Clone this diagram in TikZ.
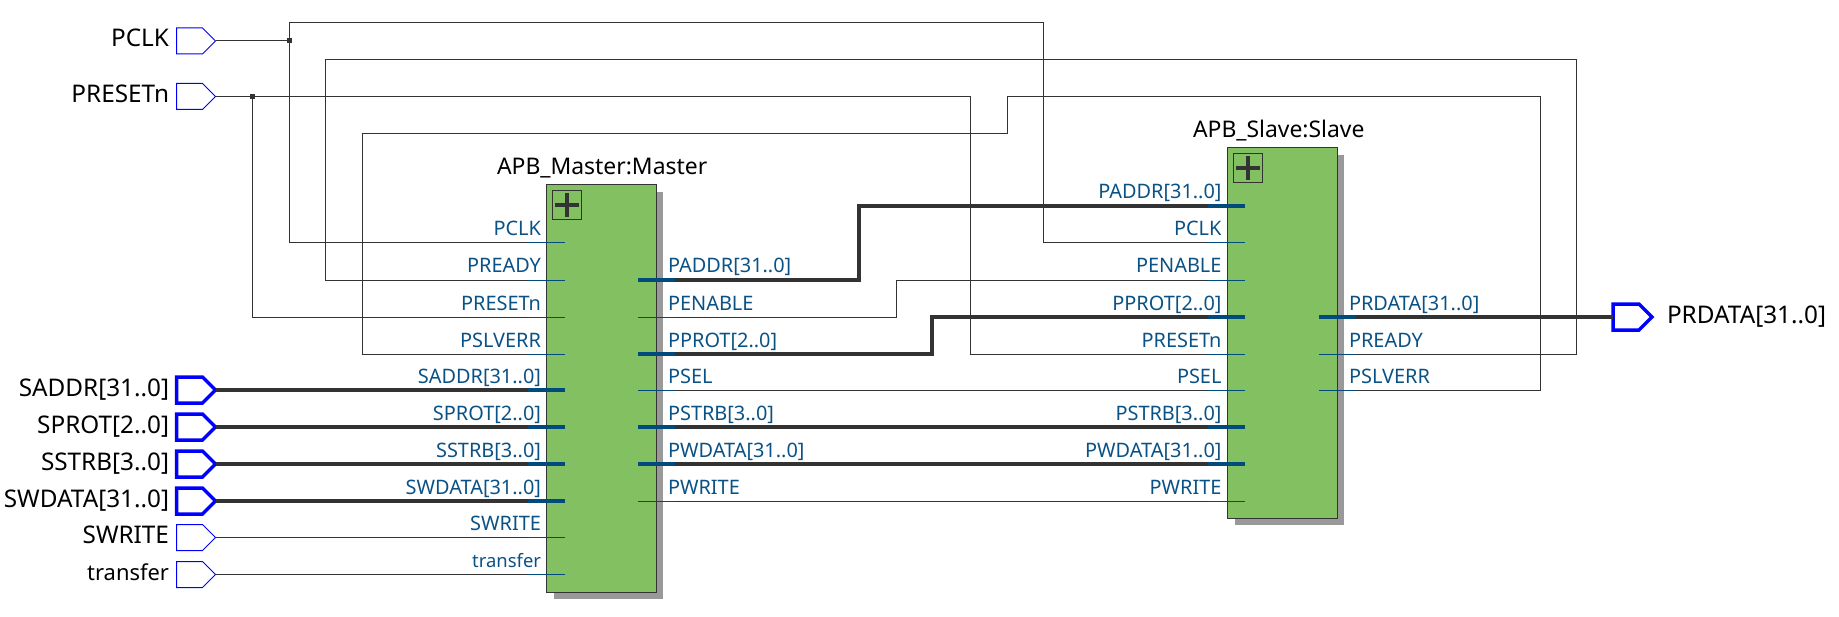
\documentclass[tikz,border=0pt]{standalone}
\usepackage{fontspec}
\setmainfont{Noto Sans}
\usetikzlibrary{shapes.symbols}
\definecolor{pinblue}{HTML}{0000FF}
\definecolor{wirecol}{HTML}{333333}
\definecolor{portblue}{HTML}{004B7B}
\definecolor{portext}{HTML}{0A5285}
\definecolor{boxgreen}{HTML}{83C062}
\definecolor{shadowgrey}{HTML}{999999}
\tikzset{
  pinbase/.style={shape=signal,signal to=east,signal from=nowhere,signal pointer angle=90,
    draw=pinblue,fill=white,minimum width=39bp,minimum height=26bp,inner sep=0pt,outer sep=0pt,anchor=west},
  thinpin/.style={pinbase,line width=1bp},
  widepin/.style={pinbase,line width=3.5bp},
  thinwire/.style={draw=wirecol,line width=1bp},
  widewire/.style={draw=wirecol,line width=4bp},
  thinport/.style={draw=portblue,line width=1bp},
  wideport/.style={draw=portblue,line width=4bp},
  blocknode/.style={draw=wirecol,fill=boxgreen,line width=1bp,anchor=north west,inner sep=0pt,outer sep=0pt},
  shadownode/.style={fill=shadowgrey,anchor=north west,inner sep=0pt,outer sep=0pt},
  plusnode/.style={draw=wirecol,line width=1bp,minimum size=29bp,inner sep=0pt,outer sep=0pt,anchor=north west},
  plusbar/.style={draw=wirecol,line width=4bp},
  junction/.style={fill=wirecol,minimum size=5bp,inner sep=0pt,outer sep=0pt},
  pinlabel/.style={font=\fontsize{24.4}{26}\selectfont,text=black,inner sep=0pt,outer sep=0pt},
  lowerlabel/.style={font=\fontsize{22}{24}\selectfont,text=black,inner sep=0pt,outer sep=0pt},
  titlelabel/.style={font=\fontsize{23}{25}\selectfont,text=black,inner sep=0pt,outer sep=0pt},
  portlabel/.style={font=\fontsize{20}{22}\selectfont,text=portext,inner sep=0pt,outer sep=0pt},
  lowerport/.style={font=\fontsize{18.5}{20}\selectfont,text=portext,inner sep=0pt,outer sep=0pt},
}
\begin{document}
\begin{tikzpicture}[x=1bp,y=-1bp]
\useasboundingbox (0,0) rectangle (1839,617);
% port points, master
\foreach \n/\r in {PCLK/243,PREADY/280,PRESETn/317,PSLVERR/354,SADDR/390,SPROT/427,SSTRB/464,SWDATA/501,SWRITE/537.5,transfer/574.5}{
  \coordinate (ml\n) at (565,\r);
}
\foreach \n/\r in {PADDR/280,PENABLE/317,PPROT/354,PSEL/390,PSTRB/427,PWDATA/464,PWRITE/501}{
  \coordinate (mr\n) at (638,\r);
}
% port points, slave
\foreach \n/\r in {PADDR/206,PCLK/243,PENABLE/280,PPROT/317,PRESETn/354,PSEL/390,PSTRB/427,PWDATA/464,PWRITE/501}{
  \coordinate (sl\n) at (1245,\r);
}
\foreach \n/\r in {PRDATA/317,PREADY/354,PSLVERR/390}{
  \coordinate (sr\n) at (1319,\r);
}
% input pins
\foreach \n/\r/\s in {PCLK/41/thinpin,PRESETn/96.5/thinpin,SADDR/390/widepin,SPROT/427/widepin,SSTRB/464/widepin,SWDATA/501/widepin,SWRITE/537.5/thinpin,transfer/574.5/thinpin}{
  \node[\s] (in\n) at (176.5,\r) {};
}
\node[widepin] (outPRDATA) at (1613,317) {};
% pin labels
\node[pinlabel,anchor=base east] (tPCLK) at (169,47) {PCLK};
\node[pinlabel,anchor=base east] (tPRESETn) at (169,102.5) {PRESETn};
\node[pinlabel,anchor=base east] (tSADDR) at (169,396) {SADDR[31..0]};
\node[pinlabel,anchor=base east] (tSPROT) at (169,433) {SPROT[2..0]};
\node[pinlabel,anchor=base east] (tSSTRB) at (169,470) {SSTRB[3..0]};
\node[pinlabel,anchor=base east] (tSWDATA) at (169,507) {SWDATA[31..0]};
\node[pinlabel,anchor=base east] (tSWRITE) at (169,543.5) {SWRITE};
\node[lowerlabel,anchor=base east] (ttransfer) at (169,580.5) {transfer};
\node[pinlabel,anchor=base west] (tPRDATA) at (1667,323) {PRDATA[31..0]};
\node[titlelabel,anchor=base west] (tMaster) at (497,175) {APB\_Master:Master};
\node[titlelabel,anchor=base west] (tSlave) at (1193,138) {APB\_Slave:Slave};
% wires
\coordinate (jPCLK) at (289.5,41);
\coordinate (jRST) at (252.5,96.5);
\draw[thinwire] (inPCLK.east) -- (jPCLK) -- (jPCLK |- 0,22.5) -- (1043,22.5) |- (slPCLK);
\draw[thinwire] (jPCLK) |- (mlPCLK);
\draw[thinwire] (inPRESETn.east) -- (970,96.5) |- (slPRESETn);
\draw[thinwire] (jRST) |- (mlPRESETn);
\draw[thinwire] (mlPREADY) -| (325.5,59.5) -- (1576.5,59.5) |- (srPREADY);
\draw[thinwire] (mlPSLVERR) -| (362.5,133.5) -- (1007.5,133.5) -- (1007.5,97) -- (1540.5,97) |- (srPSLVERR);
\draw[widewire] (mrPADDR) -- (859,280) -- (859,206) -- (slPADDR);
\draw[thinwire] (mrPENABLE) -- (896,317) -- (896,280) -- (slPENABLE);
\draw[widewire] (mrPPROT) -- (932,354) -- (932,317) -- (slPPROT);
\draw[thinwire] (mrPSEL) -- (slPSEL);
\draw[widewire] (mrPSTRB) -- (slPSTRB);
\draw[widewire] (mrPWDATA) -- (slPWDATA);
\draw[thinwire] (mrPWRITE) -- (slPWRITE);
\draw[widewire] (inSADDR.east) -- (mlSADDR);
\draw[widewire] (inSPROT.east) -- (mlSPROT);
\draw[widewire] (inSSTRB.east) -- (mlSSTRB);
\draw[widewire] (inSWDATA.east) -- (mlSWDATA);
\draw[thinwire] (inSWRITE.east) -- (mlSWRITE);
\draw[thinwire] (intransfer.east) -- (mltransfer);
\draw[widewire] (srPRDATA) -- (outPRDATA.west);
\node[junction] (dotPCLK) at (jPCLK) {};
\node[junction] (dotRST) at (jRST) {};
% blocks
\node[shadownode,minimum width=109.5bp,minimum height=407bp] (mShadow) at (553.5,192) {};
\node[blocknode,minimum width=109.5bp,minimum height=407bp] (master) at (546.5,185) {};
\node[plusnode] (mPlus) at (552.5,190.5) {};
\draw[plusbar] ([xshift=-12bp]mPlus.center) -- ([xshift=12bp]mPlus.center);
\draw[plusbar] ([yshift=-12bp]mPlus.center) -- ([yshift=12bp]mPlus.center);
\node[shadownode,minimum width=109.5bp,minimum height=370bp] (sShadow) at (1234.5,155) {};
\node[blocknode,minimum width=109.5bp,minimum height=370bp] (slave) at (1227.5,148) {};
\node[plusnode] (sPlus) at (1233.5,153.5) {};
\draw[plusbar] ([xshift=-12bp]sPlus.center) -- ([xshift=12bp]sPlus.center);
\draw[plusbar] ([yshift=-12bp]sPlus.center) -- ([yshift=12bp]sPlus.center);
% stubs
\foreach \n/\s in {PCLK/thinport,PREADY/thinport,PRESETn/thinport,PSLVERR/thinport,SADDR/wideport,SPROT/wideport,SSTRB/wideport,SWDATA/wideport,SWRITE/thinport,transfer/thinport}{
  \draw[\s] (ml\n) -- ++(-37,0);
}
\foreach \n/\s in {PADDR/wideport,PENABLE/thinport,PPROT/wideport,PSEL/thinport,PSTRB/wideport,PWDATA/wideport,PWRITE/thinport}{
  \draw[\s] (mr\n) -- ++(37,0);
}
\foreach \n/\s in {PADDR/wideport,PCLK/thinport,PENABLE/thinport,PPROT/wideport,PRESETn/thinport,PSEL/thinport,PSTRB/wideport,PWDATA/wideport,PWRITE/thinport}{
  \draw[\s] (sl\n) -- ++(-37,0);
}
\foreach \n/\s in {PRDATA/wideport,PREADY/thinport,PSLVERR/thinport}{
  \draw[\s] (sr\n) -- ++(37,0);
}
% port labels
\foreach \n/\t in {PCLK/PCLK,PREADY/PREADY,PRESETn/PRESETn,PSLVERR/PSLVERR,SADDR/{SADDR[31..0]},SPROT/{SPROT[2..0]},SSTRB/{SSTRB[3..0]},SWDATA/{SWDATA[31..0]},SWRITE/SWRITE}{
  \node[portlabel,anchor=base east] (lbml\n) at ([xshift=-24bp,yshift=7bp]ml\n) {\t};
}
\node[lowerport,anchor=base east] (lbmltransfer) at ([xshift=-24bp,yshift=7bp]mltransfer) {transfer};
\foreach \n/\t in {PADDR/{PADDR[31..0]},PENABLE/PENABLE,PPROT/{PPROT[2..0]},PSEL/PSEL,PSTRB/{PSTRB[3..0]},PWDATA/{PWDATA[31..0]},PWRITE/PWRITE}{
  \node[portlabel,anchor=base west] (lbmr\n) at ([xshift=30bp,yshift=7bp]mr\n) {\t};
}
\foreach \n/\t in {PADDR/{PADDR[31..0]},PCLK/PCLK,PENABLE/PENABLE,PPROT/{PPROT[2..0]},PRESETn/PRESETn,PSEL/PSEL,PSTRB/{PSTRB[3..0]},PWDATA/{PWDATA[31..0]},PWRITE/PWRITE}{
  \node[portlabel,anchor=base east] (lbsl\n) at ([xshift=-23.5bp,yshift=7bp]sl\n) {\t};
}
\foreach \n/\t in {PRDATA/{PRDATA[31..0]},PREADY/PREADY,PSLVERR/PSLVERR}{
  \node[portlabel,anchor=base west] (lbsr\n) at ([xshift=30bp,yshift=7bp]sr\n) {\t};
}
\end{tikzpicture}
\end{document}
